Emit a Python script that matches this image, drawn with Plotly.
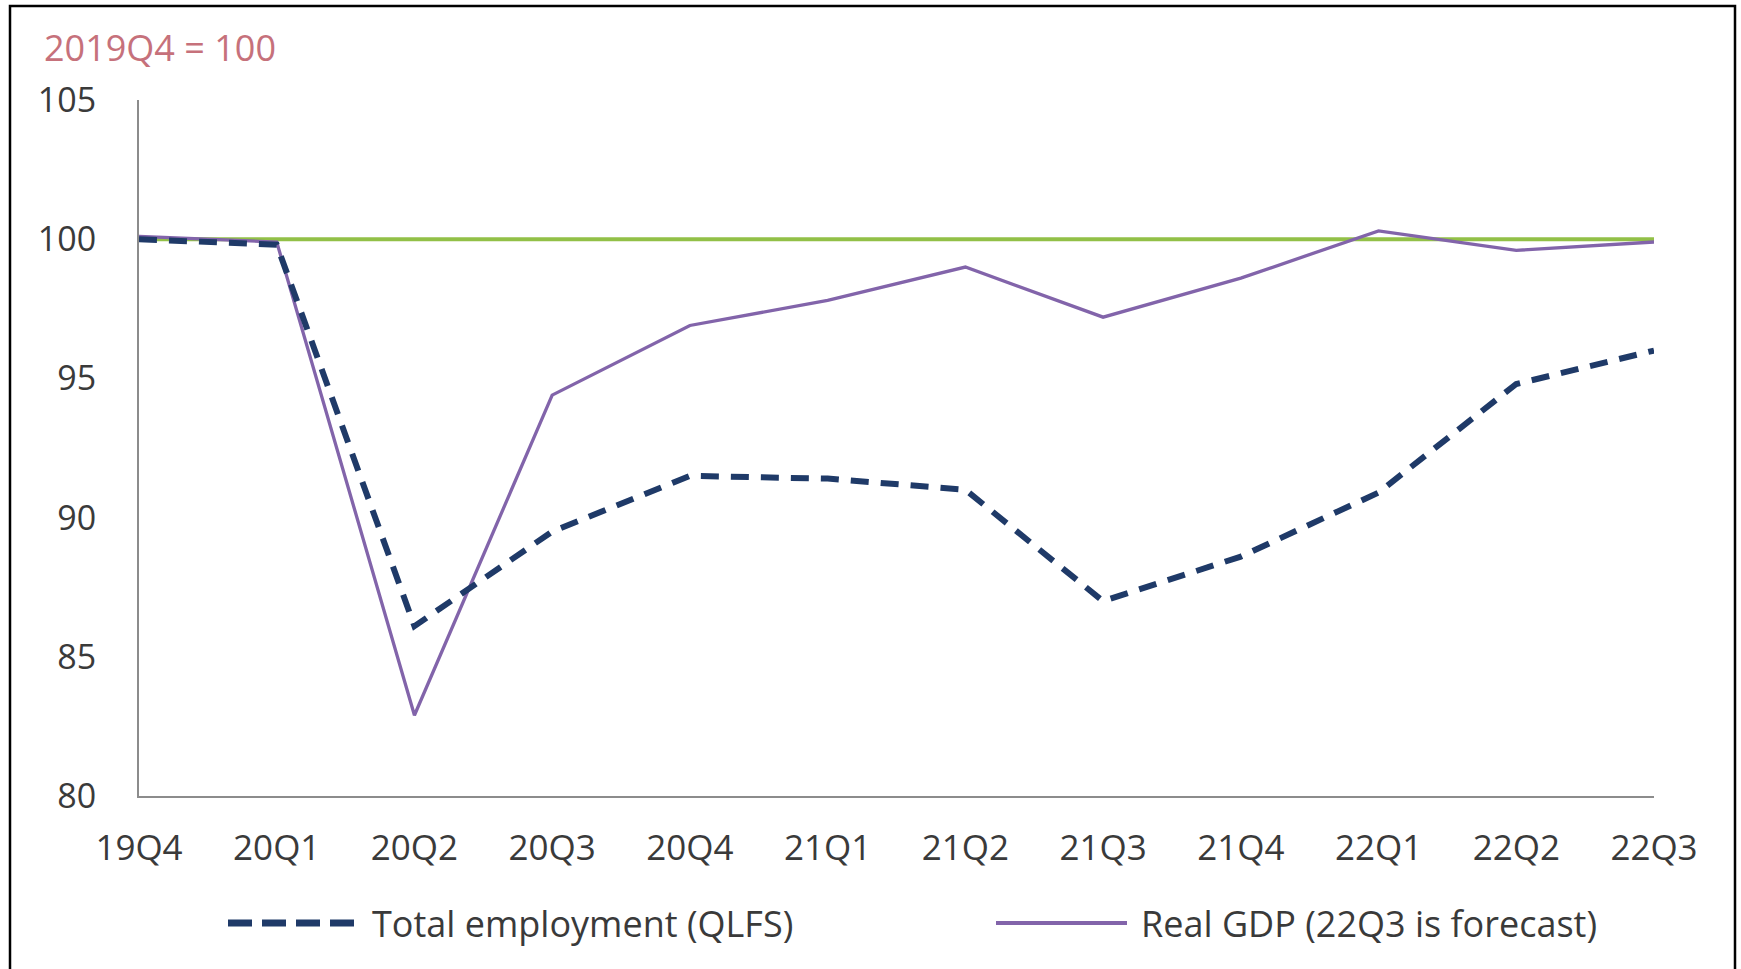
import plotly.graph_objects as go

quarters = ["19Q4", "20Q1", "20Q2", "20Q3", "20Q4", "21Q1", "21Q2", "21Q3",
            "21Q4", "22Q1", "22Q2", "22Q3"]
employment = [100.0, 99.8, 86.1, 89.5, 91.5, 91.4, 91.0, 87.0, 88.6, 90.9, 94.8, 96.0]
real_gdp = [100.1, 99.9, 82.9, 94.4, 96.9, 97.8, 99.0, 97.2, 98.6, 100.3, 99.6, 99.9]
baseline = [100] * len(quarters)

emp_name = "Total employment (QLFS)"
gdp_name = "Real GDP (22Q3 is forecast)"
index_note = "2019Q4 = 100"
y_ticks = [80, 85, 90, 95, 100, 105]

W, H = 1741, 969
# plot area edges in page pixels
L, R, T, B = 139, 1654, 100, 796
FONT = "Open Sans, Lato, sans-serif"
EMP_C = "#1f3a68"
GDP_C = "#8264aa"
BASE_C = "#92c047"
TXT_C = "#3a3a3a"


def px(x):
    return (x - L) / (R - L)


def py(y):
    return (B - y) / (B - T)


fig = go.Figure()
fig.add_trace(go.Scatter(x=list(range(len(quarters))), y=baseline, mode="lines",
                         line=dict(color=BASE_C, width=4), showlegend=False, hoverinfo="skip"))
fig.add_trace(go.Scatter(x=list(range(len(quarters))), y=real_gdp, mode="lines", name=gdp_name,
                         line=dict(color=GDP_C, width=3.3), showlegend=False))
fig.add_trace(go.Scatter(x=list(range(len(quarters))), y=employment, mode="lines", name=emp_name,
                         line=dict(color=EMP_C, width=6, dash="18px,12px"), showlegend=False))

shapes = [
    # outer frame
    dict(type="rect", xref="paper", yref="paper", x0=px(10), x1=px(1735), y0=py(1000), y1=py(6),
         line=dict(color="black", width=2.5), fillcolor="rgba(0,0,0,0)", layer="below"),
    # legend swatches
    dict(type="line", xref="paper", yref="paper", x0=px(228), x1=px(364), y0=py(923), y1=py(923),
         line=dict(color=EMP_C, width=7, dash="24px,10px")),
    dict(type="line", xref="paper", yref="paper", x0=px(996), x1=px(1127), y0=py(923), y1=py(923),
         line=dict(color=GDP_C, width=4)),
]

annotations = [
    dict(text=index_note, xref="paper", yref="paper", x=px(42), y=py(47), xanchor="left",
         yanchor="middle", showarrow=False, font=dict(family=FONT, size=36, color="#c6717b")),
    dict(text=emp_name, xref="paper", yref="paper", x=px(370), y=py(923), xanchor="left",
         yanchor="middle", showarrow=False, font=dict(family=FONT, size=36, color=TXT_C)),
    dict(text=gdp_name, xref="paper", yref="paper", x=px(1139), y=py(923), xanchor="left",
         yanchor="middle", showarrow=False, font=dict(family=FONT, size=36, color=TXT_C)),
]

fig.update_layout(
    width=W, height=H,
    margin=dict(l=L, r=W - R, t=T, b=H - B, pad=0),
    paper_bgcolor="white", plot_bgcolor="white",
    shapes=shapes, annotations=annotations,
    font=dict(family=FONT, color=TXT_C),
)
fig.update_xaxes(range=[0, len(quarters) - 1], tickmode="array",
                 tickvals=list(range(len(quarters))), ticktext=quarters,
                 showgrid=False, zeroline=False, showline=True, linecolor="#8c8c8c", linewidth=2,
                 ticks="", tickfont=dict(family=FONT, size=35, color=TXT_C), ticklabelstandoff=20)
fig.update_yaxes(range=[80, 105], tickmode="array", tickvals=y_ticks,
                 showgrid=False, zeroline=False, showline=True, linecolor="#8c8c8c", linewidth=2,
                 ticks="", tickfont=dict(family=FONT, size=34, color=TXT_C), ticklabelstandoff=34)

fig.write_html("out.html", config={"displayModeBar": False},
               post_script="document.body.style.margin='0px';document.body.style.overflow='hidden';")
